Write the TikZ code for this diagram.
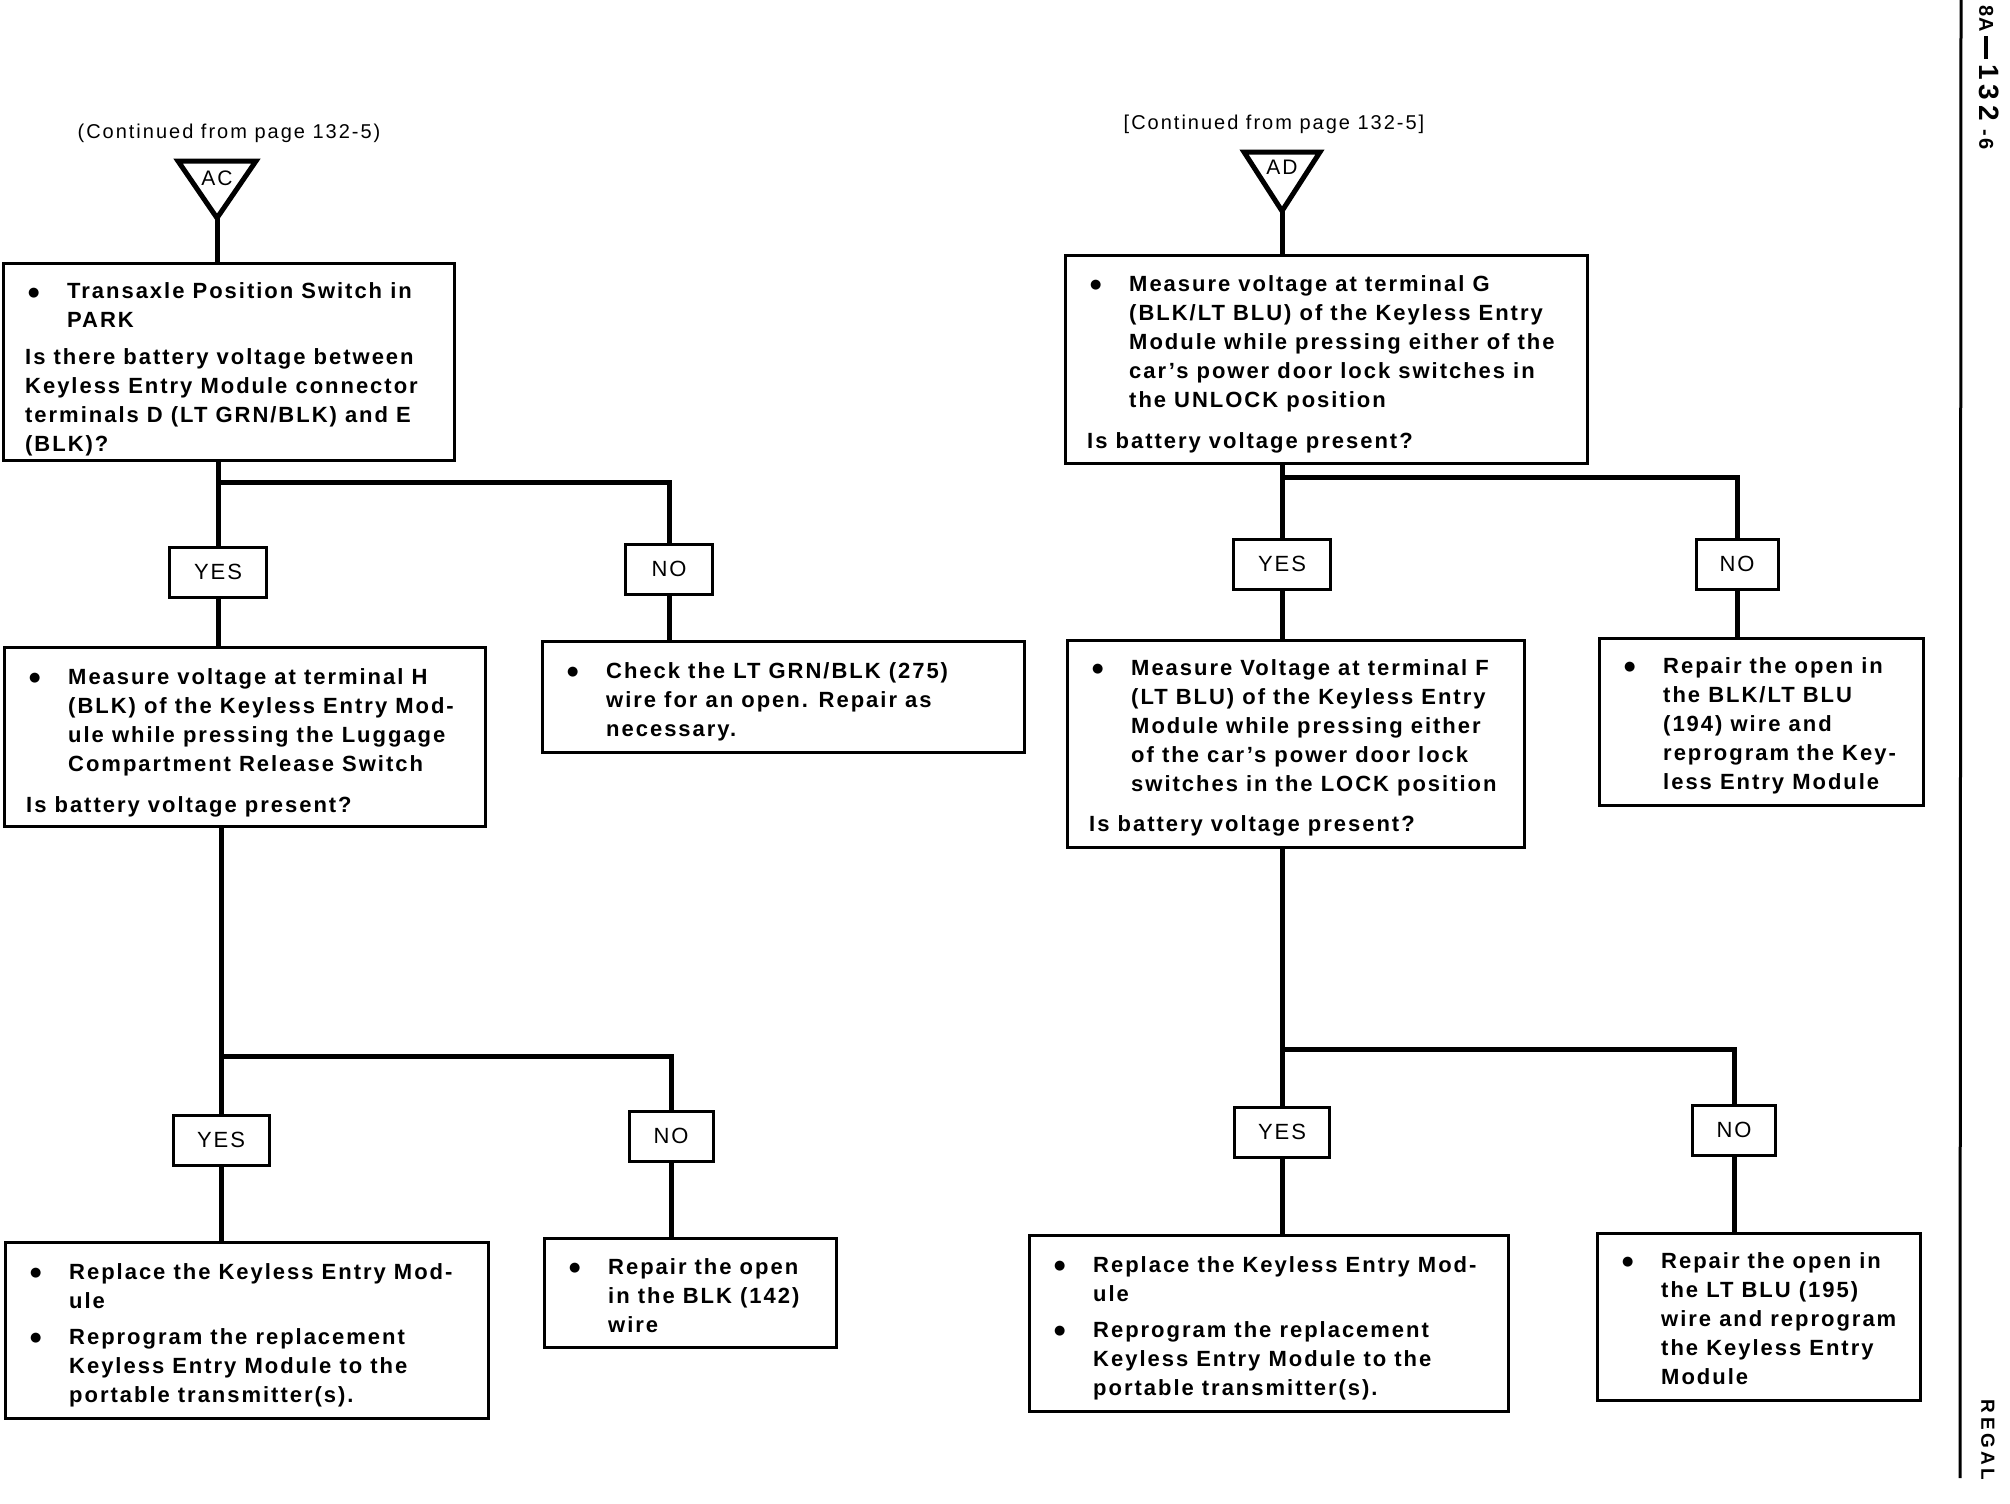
\documentclass[tikz,border=0pt]{standalone}
\usepackage{fontspec}
\setmainfont{Liberation Sans}[LetterSpace=9]
\newfontfamily\symf{DejaVu Sans}
\usepackage{array}
\newcommand\dotb{\raisebox{2.5pt}{\symf\fontsize{13}{13}\selectfont ●}}
\newcommand\bl{\makebox[42pt][l]{\hspace{3pt}\dotb}}
\newcommand\ml[1]{\multicolumn{2}{@{}l@{}}{#1}}
\tikzset{
  box/.style={draw, line width=3pt, anchor=north west, inner sep=0pt, outer sep=0pt},
  txt/.style={anchor=west, inner sep=0pt, font=\fontsize{22}{29}\selectfont\bfseries},
  yn/.style={draw, line width=3pt, minimum height=50pt, inner sep=0pt, outer sep=0pt, font=\fontsize{22}{25}\selectfont},
  conn/.style={line width=5pt},
  tri/.style={line width=5pt, line join=miter},
  cont/.style={font=\fontsize{20}{23}\selectfont\addfontfeature{LetterSpace=10}, inner sep=0pt},
  tag/.style={font=\fontsize{21}{25}\selectfont, inner sep=0pt},
}
\begin{document}
\begin{tikzpicture}[x=1pt,y=-1pt]
\useasboundingbox (0,0) rectangle (2010,1504);

% ---------------- left column ----------------
\node[cont] (c1) at (229,133) {(Continued from page 132-5)};
\draw[tri] (178,161) -- (256,161) -- (217,218) -- cycle;
\coordinate (acTip) at (217,218);
\node[tag] (ac) at (217,178) {AC};

\node[box, minimum width=451pt, minimum height=197pt] (b1) at (3,263) {};
\node[txt] (b1t) at ([xshift=22pt,yshift=-8pt]b1.west) {\begin{tabular}{@{}l@{}l@{}}
\bl & Transaxle Position Switch in\\
 & PARK\\[8pt]
\ml{Is there battery voltage between}\\
\ml{Keyless Entry Module connector}\\
\ml{terminals D (LT GRN/BLK) and E}\\
\ml{(BLK)?}
\end{tabular}};

\node[yn, minimum width=97pt] (y1) at (218,572) {YES};
\node[yn, minimum width=87pt] (n1) at (669,569) {NO};
\coordinate (j1) at (218,482);

\node[box, minimum width=481pt, minimum height=179pt] (b2) at (4,647) {};
\node[txt] (b2t) at ([xshift=22pt,yshift=-6pt]b2.west) {\begin{tabular}{@{}l@{}l@{}}
\bl & Measure voltage at terminal H\\
 & (BLK) of the Keyless Entry Mod-\\
 & ule while pressing the Luggage\\
 & Compartment Release Switch\\[12pt]
\ml{Is battery voltage present?}
\end{tabular}};

\node[box, minimum width=482pt, minimum height=111pt] (b3) at (542,641) {};
\node[txt] (b3t) at ([xshift=22pt,yshift=-5pt]b3.west) {\begin{tabular}{@{}l@{}l@{}}
\bl & Check the LT GRN/BLK (275)\\
 & wire for an open. Repair as\\
 & necessary.
\end{tabular}};

\node[yn, minimum width=96pt] (y2) at (221,1140) {YES};
\node[yn, minimum width=84pt] (n2) at (671,1136) {NO};
\coordinate (j2) at (221,1056);

\node[box, minimum width=483pt, minimum height=176pt] (b4) at (5,1242) {};
\node[txt] (b4t) at ([xshift=22pt,yshift=-5pt]b4.west) {\begin{tabular}{@{}l@{}l@{}}
\bl & Replace the Keyless Entry Mod-\\
 & ule\\[7pt]
\bl & Reprogram the replacement\\
 & Keyless Entry Module to the\\
 & portable transmitter(s).
\end{tabular}};

\node[box, minimum width=292pt, minimum height=109pt] (b5) at (544,1238) {};
\node[txt] (b5t) at ([xshift=22pt,yshift=-5pt]b5.west) {\begin{tabular}{@{}l@{}l@{}}
\bl & Repair the open\\
 & in the BLK (142)\\
 & wire
\end{tabular}};

\draw[conn] (acTip) -- (acTip |- b1.north);
\draw[conn] (y1.north |- b1.south) -- (y1.north);
\draw[conn] (j1) -| (n1.north);
\draw[conn] (y1.south) -- (y1.south |- b2.north);
\draw[conn] (n1.south) -- (n1.south |- b3.north);
\draw[conn] (y2.north |- b2.south) -- (y2.north);
\draw[conn] (j2) -| (n2.north);
\draw[conn] (y2.south) -- (y2.south |- b4.north);
\draw[conn] (n2.south) -- (n2.south |- b5.north);

% ---------------- right column ----------------
\node[cont] (c2) at (1274,124) {[Continued from page 132-5]};
\draw[tri] (1244,152) -- (1320,152) -- (1282,211) -- cycle;
\coordinate (adTip) at (1282,211);
\node[tag] (ad) at (1282,167) {AD};

\node[box, minimum width=522pt, minimum height=208pt] (r1) at (1065,255) {};
\node[txt] (r1t) at ([xshift=22pt,yshift=-5pt]r1.west) {\begin{tabular}{@{}l@{}l@{}}
\bl & Measure voltage at terminal G\\
 & (BLK/LT BLU) of the Keyless Entry\\
 & Module while pressing either of the\\
 & car's power door lock switches in\\
 & the UNLOCK position\\[12pt]
\ml{Is battery voltage present?}
\end{tabular}};

\node[yn, minimum width=97pt] (y3) at (1282,564) {YES};
\node[yn, minimum width=82pt] (n3) at (1737,564) {NO};
\coordinate (j3) at (1282,477);

\node[box, minimum width=457pt, minimum height=207pt] (r2) at (1067,640) {};
\node[txt] (r2t) at ([xshift=22pt,yshift=-4pt]r2.west) {\begin{tabular}{@{}l@{}l@{}}
\bl & Measure Voltage at terminal F\\
 & (LT BLU) of the Keyless Entry\\
 & Module while pressing either\\
 & of the car's power door lock\\
 & switches in the LOCK position\\[11pt]
\ml{Is battery voltage present?}
\end{tabular}};

\node[box, minimum width=324pt, minimum height=167pt] (r3) at (1599,638) {};
\node[txt] (r3t) at ([xshift=22pt,yshift=-4pt]r3.west) {\begin{tabular}{@{}l@{}l@{}}
\bl & Repair the open in\\
 & the BLK/LT BLU\\
 & (194) wire and\\
 & reprogram the Key-\\
 & less Entry Module
\end{tabular}};

\node[yn, minimum width=95pt] (y4) at (1282,1132) {YES};
\node[yn, minimum width=83pt] (n4) at (1734,1130) {NO};
\coordinate (j4) at (1282,1049);

\node[box, minimum width=479pt, minimum height=176pt] (r4) at (1029,1235) {};
\node[txt] (r4t) at ([xshift=22pt,yshift=-5pt]r4.west) {\begin{tabular}{@{}l@{}l@{}}
\bl & Replace the Keyless Entry Mod-\\
 & ule\\[7pt]
\bl & Reprogram the replacement\\
 & Keyless Entry Module to the\\
 & portable transmitter(s).
\end{tabular}};

\node[box, minimum width=323pt, minimum height=167pt] (r5) at (1597,1233) {};
\node[txt] (r5t) at ([xshift=22pt,yshift=-4pt]r5.west) {\begin{tabular}{@{}l@{}l@{}}
\bl & Repair the open in\\
 & the LT BLU (195)\\
 & wire and reprogram\\
 & the Keyless Entry\\
 & Module
\end{tabular}};

\draw[conn] (adTip) -- (adTip |- r1.north);
\draw[conn] (y3.north |- r1.south) -- (y3.north);
\draw[conn] (j3) -| (n3.north);
\draw[conn] (y3.south) -- (y3.south |- r2.north);
\draw[conn] (n3.south) -- (n3.south |- r3.north);
\draw[conn] (y4.north |- r2.south) -- (y4.north);
\draw[conn] (j4) -| (n4.north);
\draw[conn] (y4.south) -- (y4.south |- r4.north);
\draw[conn] (n4.south) -- (n4.south |- r5.north);

% ---------------- page margin ----------------
\draw[line width=3pt] (1961,0) -- (1960,1478);
\node[rotate=-90, anchor=west, inner sep=0pt, font=\bfseries] (pg) at (1989,5)
  {{\fontsize{20}{20}\selectfont\addfontfeature{LetterSpace=8}8A}\hspace{4pt}\rule[5pt]{23pt}{4pt}\hspace{5pt}{\fontsize{28}{28}\selectfont\addfontfeature{LetterSpace=18}132}\hspace{8pt}{\fontsize{20}{20}\selectfont -\hspace{3pt}6}};
\node[rotate=-90, inner sep=0pt, font=\fontsize{19}{19}\selectfont\bfseries\addfontfeature{LetterSpace=18}] (rg) at (1988,1440) {REGAL};
\end{tikzpicture}
\end{document}
